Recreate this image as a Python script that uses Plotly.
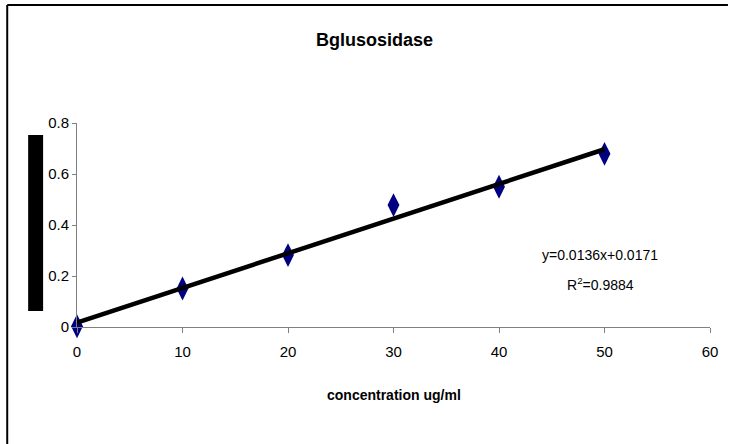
import plotly.graph_objects as go

# Standard curve data
concentration = [0, 10, 20, 30, 40, 50]
absorbance = [0.003, 0.151, 0.282, 0.478, 0.550, 0.679]

# Linear trendline parameters
slope = 0.0136
intercept = 0.0171
r_squared = 0.9884

x_ticks = [0, 10, 20, 30, 40, 50, 60]
y_ticks = [0, 0.2, 0.4, 0.6, 0.8]
y_tick_text = ["0", "0.2", "0.4", "0.6", "0.8"]

W, H = 730, 444
L, R, T, B = 77, 18, 123, 117
pw, ph = W - L - R, H - T - B


def px_x(p):
    return (p - L) / pw


def px_y(p):
    return (H - B - p) / ph


FONT = "Liberation Sans, Arial, sans-serif"

trend_x = [concentration[0], concentration[-1]]
trend_y = [slope * v + intercept for v in trend_x]

fig = go.Figure()
fig.add_trace(go.Scatter(
    x=concentration, y=absorbance, mode="markers",
    marker=dict(symbol="diamond-tall", size=17, color="#000080",
                line=dict(width=0)),
    cliponaxis=False, showlegend=False,
))
fig.add_trace(go.Scatter(
    x=trend_x, y=trend_y, mode="lines",
    line=dict(color="black", width=4.5),
    cliponaxis=False, showlegend=False,
))

fig.update_xaxes(
    range=[0, 60], tickvals=x_ticks, ticks="outside", ticklen=5,
    tickcolor="#808080", showline=True, linecolor="#808080", linewidth=1,
    showgrid=False, zeroline=False, ticklabelstandoff=6,
    tickfont=dict(family=FONT, size=15, color="black"),
)
fig.update_yaxes(
    range=[0, 0.8], tickvals=y_ticks, ticktext=y_tick_text, ticks="outside",
    ticklen=4, tickcolor="#808080", showline=True, linecolor="#808080",
    linewidth=1, showgrid=False, zeroline=False,
    tickfont=dict(family=FONT, size=15, color="black"),
)

annotations = [
    dict(text="<b>Bglusosidase</b>", x=px_x(375), y=px_y(40),
         font=dict(family=FONT, size=18, color="black")),
    dict(text="<b>concentration ug/ml</b>", x=px_x(395), y=px_y(395),
         font=dict(family=FONT, size=14, color="black")),
    dict(text=f"y={slope}x+{intercept}", x=px_x(602), y=px_y(255),
         font=dict(family=FONT, size=14, color="black")),
    dict(text=f"R<sup>2</sup>={r_squared}", x=px_x(602), y=px_y(284),
         font=dict(family=FONT, size=14, color="black")),
]
for a in annotations:
    a.update(xref="paper", yref="paper", showarrow=False,
             xanchor="center", yanchor="middle")

shapes = [
    # chart frame: left and top edges
    dict(type="line", xref="paper", yref="paper",
         x0=px_x(7), x1=px_x(7), y0=px_y(444), y1=px_y(5),
         line=dict(color="black", width=2)),
    dict(type="line", xref="paper", yref="paper",
         x0=px_x(7), x1=px_x(730), y0=px_y(5), y1=px_y(5),
         line=dict(color="black", width=2)),
    # vertical axis title block
    dict(type="rect", xref="paper", yref="paper",
         x0=px_x(28), x1=px_x(43), y0=px_y(311), y1=px_y(135),
         line=dict(width=0), fillcolor="black"),
]

fig.update_layout(
    width=W, height=H,
    margin=dict(l=L, r=R, t=T, b=B),
    paper_bgcolor="white", plot_bgcolor="white",
    annotations=annotations, shapes=shapes,
    showlegend=False,
)

fig.write_html("out.html")
